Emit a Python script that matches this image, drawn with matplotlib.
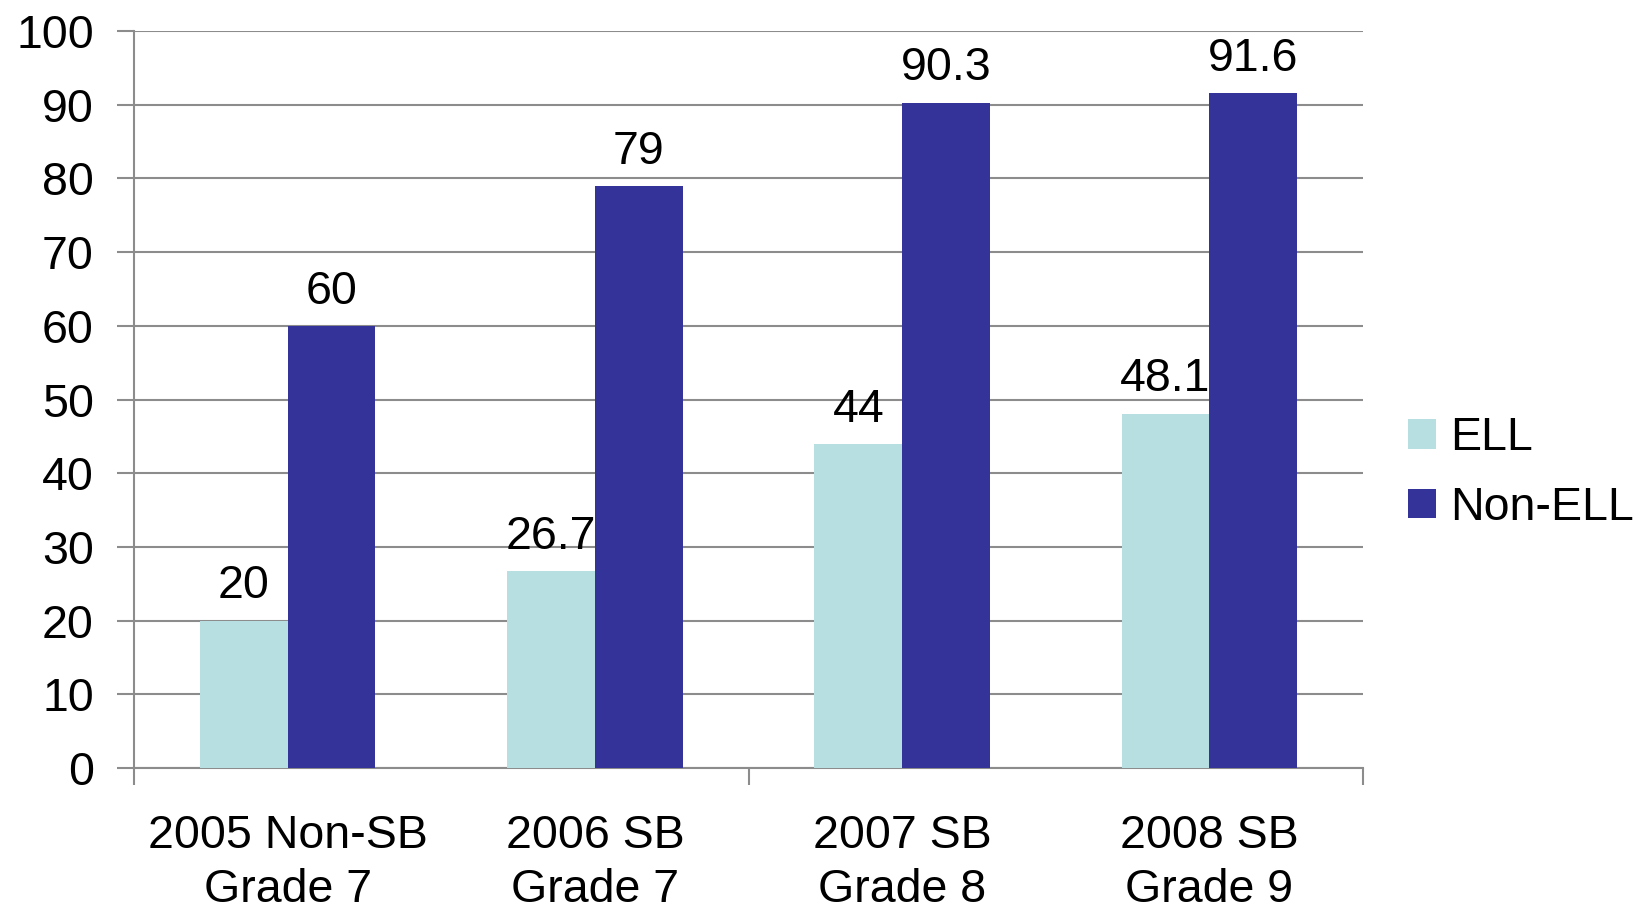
import matplotlib
matplotlib.use("Agg")
import matplotlib.pyplot as plt
import numpy as np

plt.rcParams["font.family"] = ["Liberation Sans", "DejaVu Sans"]

categories = ["2005 Non-SB\nGrade 7", "2006 SB\nGrade 7", "2007 SB\nGrade 8", "2008 SB\nGrade 9"]
ell = [20, 26.7, 44, 48.1]
non_ell = [60, 79, 90.3, 91.6]
ell_labels = ["20", "26.7", "44", "48.1"]
non_ell_labels = ["60", "79", "90.3", "91.6"]
yticks = [0, 10, 20, 30, 40, 50, 60, 70, 80, 90, 100]

c_ell = "#b7dfe1"
c_non = "#333399"
c_grid = "#8c8c8c"
fs = 33.5

fig = plt.figure(figsize=(16.47, 9.14), dpi=100)
ax = fig.add_axes([0.0814, 0.1597, 0.8276 - 0.0814, 0.966 - 0.1597])

x = np.arange(len(categories))
w = 0.2857
b1 = ax.bar(x - w / 2, ell, w, color=c_ell, label="ELL", zorder=3)
b2 = ax.bar(x + w / 2, non_ell, w, color=c_non, label="Non-ELL", zorder=3)

for xi, v, t in zip(x - w / 2, ell, ell_labels):
    ax.annotate(t, (xi, v), xytext=(0, 16), textcoords="offset points",
                ha="center", va="baseline", fontsize=fs, zorder=2)
for xi, v, t in zip(x + w / 2, non_ell, non_ell_labels):
    ax.annotate(t, (xi, v), xytext=(0, 16), textcoords="offset points",
                ha="center", va="baseline", fontsize=fs, zorder=2)

ax.set_xlim(-0.5, len(categories) - 0.5)
ax.set_ylim(0, 100)
ax.set_yticks(yticks)
ax.tick_params(axis="y", length=12, width=1.5, color=c_grid, pad=17, labelsize=fs)

# category boundary ticks (every second one, as in the source) and labels in the middle
ax.set_xticks([-0.5, 1.5, 3.5])
ax.set_xticklabels([])
ax.tick_params(axis="x", which="major", length=12, width=1.5, color=c_grid)
ax.set_xticks(x, minor=True)
ax.set_xticklabels(categories, minor=True, linespacing=1.3)
ax.tick_params(axis="x", which="minor", length=0, pad=33, labelsize=fs)

ax.yaxis.grid(True, color=c_grid, linewidth=1.5, zorder=1)
ax.set_axisbelow(True)
for s in ["top", "right"]:
    ax.spines[s].set_visible(False)
for s in ["left", "bottom"]:
    ax.spines[s].set_color(c_grid)
    ax.spines[s].set_linewidth(1.5)

ax.legend(loc="center left", bbox_to_anchor=(1.01, 0.40), frameon=False, fontsize=fs,
          handlelength=0.6, handleheight=0.6, handletextpad=0.3, labelspacing=0.55,
          borderaxespad=0.3)

fig.savefig("out.png", dpi=100)
